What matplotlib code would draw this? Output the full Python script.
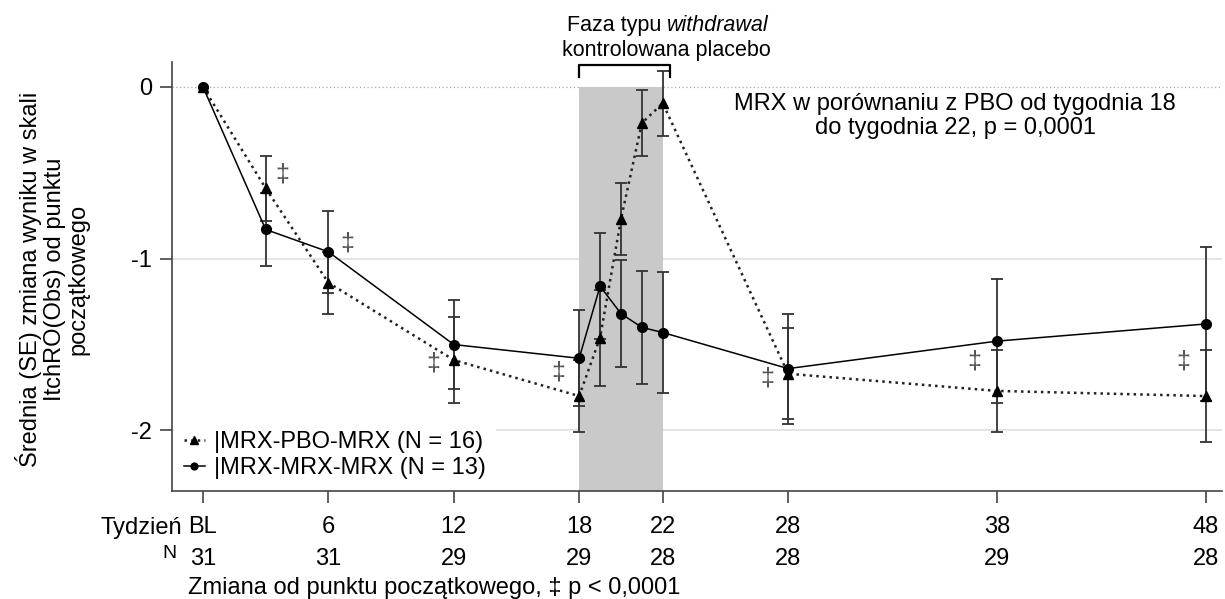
import matplotlib.pyplot as plt
import matplotlib.transforms as mtransforms

plt.rcParams['font.family'] = ['Liberation Sans', 'DejaVu Sans']

# Dane
tygodnie = [0, 3, 6, 12, 18, 19, 20, 21, 22, 28, 38, 48]
pbo_srednia = [0, -0.59, -1.14, -1.59, -1.80, -1.46, -0.77, -0.21, -0.095, -1.67, -1.77, -1.80]
pbo_se = [0, 0.19, 0.18, 0.25, 0.21, 0.28, 0.21, 0.195, 0.19, 0.265, 0.24, 0.27]
mrx_srednia = [0, -0.83, -0.96, -1.50, -1.58, -1.16, -1.32, -1.40, -1.43, -1.64, -1.48, -1.38]
mrx_se = [0, 0.21, 0.24, 0.26, 0.28, 0.31, 0.31, 0.33, 0.35, 0.32, 0.36, 0.45]

tyg_ticki = [0, 6, 12, 18, 22, 28, 38, 48]
tyg_etykiety = ['BL', '6', '12', '18', '22', '28', '38', '48']
liczba_n = ['31', '31', '29', '29', '28', '28', '29', '28']

faza_od, faza_do = 18, 22

# tygodnie z p < 0,0001 i miejsce znaku ‡
sygn_x = [3.8, 6.9, 11.0, 17.0, 27.0, 36.9, 46.9]
sygn_y = [-0.51, -0.91, -1.61, -1.66, -1.70, -1.60, -1.60]

fs = 17

fig = plt.figure(figsize=(12.25, 5.99), dpi=100)
ax = fig.add_axes([172 / 1225, 1 - 490.7 / 599, 1050 / 1225, 429 / 599])

ax.set_xlim(-1.483, 48.76)
ax.set_ylim(-2.351, 0.147)

# linie siatki
ax.axhline(0, color='#a8a8a8', lw=0.9, ls=(0, (1, 2)), zorder=1)
for y in [-1, -2]:
    ax.axhline(y, color='#e2e2e2', lw=1.3, zorder=1)

# faza withdrawal
ax.fill_between([faza_od, faza_do], 0, -10, color='#c9c9c9', lw=0, zorder=1.5)

# słupki błędów
ax.errorbar(tygodnie[1:], pbo_srednia[1:], yerr=pbo_se[1:], fmt='none',
            ecolor='#333333', elinewidth=1.3, capsize=4.3, capthick=1.3, zorder=2)
ax.errorbar(tygodnie[1:], mrx_srednia[1:], yerr=mrx_se[1:], fmt='none',
            ecolor='#333333', elinewidth=1.3, capsize=4.3, capthick=1.3, zorder=2)

l1, = ax.plot(tygodnie, pbo_srednia, ls=':', color='#222222', lw=1.8,
              marker='^', ms=7.5, mfc='black', mec='black', zorder=3,
              label='|MRX-PBO-MRX (N = 16)')
l2, = ax.plot(tygodnie, mrx_srednia, ls='-', color='black', lw=1.1,
              marker='o', ms=7, mfc='black', mec='black', zorder=4,
              label='|MRX-MRX-MRX (N = 13)')

for x, y in zip(sygn_x, sygn_y):
    ax.text(x, y, '\u2021', fontsize=18, color='#555555', ha='center', va='center')

leg = ax.legend(handles=[l1, l2], loc='lower left', bbox_to_anchor=(0, 0),
                fontsize=fs, frameon=True, facecolor='white', edgecolor='none',
                framealpha=1, fancybox=False, handlelength=0.9, handletextpad=0.4,
                labelspacing=0.15, borderaxespad=0.1, markerscale=0.7)
leg.set_zorder(5)

# osie
for s in ['top', 'right']:
    ax.spines[s].set_visible(False)
for s in ['left', 'bottom']:
    ax.spines[s].set_color('#444444')
    ax.spines[s].set_linewidth(1.2)

ax.set_yticks([0, -1, -2])
ax.set_yticklabels(['0', '-1', '-2'])
ax.set_xticks(tyg_ticki)
ax.set_xticklabels(tyg_etykiety)
ax.tick_params(axis='both', labelsize=fs, color='#444444', width=1.2, length=8.5)
ax.tick_params(axis='x', pad=10)
ax.tick_params(axis='y', pad=6)

trans = mtransforms.blended_transform_factory(ax.transData, ax.transAxes)
ax.text(-1.0, -0.086, 'Tydzień', fontsize=fs, ha='right', va='center', transform=trans)
ax.text(-1.6, -0.146, 'N', fontsize=14, ha='center', va='center', transform=trans)
for x, n in zip(tyg_ticki, liczba_n):
    ax.text(x, -0.160, n, fontsize=fs, ha='center', va='center', transform=trans)
ax.text(-0.72, -0.226, 'Zmiana od punktu początkowego, \u2021 p < 0,0001', fontsize=fs,
        ha='left', va='center', transform=trans)

# klamra nad fazą
ax.plot([faza_od, faza_od, 22.35, 22.35], [0.058, 0.128, 0.128, 0.058],
        color='black', lw=1.6, clip_on=False, zorder=6)
ax.text(22.2, 0.36, 'Faza typu ', fontsize=15.5, ha='right', va='center')
ax.text(22.2, 0.36, 'withdrawal', fontsize=15.5, style='italic', ha='left', va='center')
ax.text(22.15, 0.215, 'kontrolowana placebo', fontsize=15.5, ha='center', va='center')

ax.text(36.0, -0.17, 'MRX w porównaniu z PBO od tygodnia 18\ndo tygodnia 22, p = 0,0001',
        fontsize=fs, ha='center', va='center', linespacing=1.1)

fig.text(52 / 1225, 1 - 279 / 599,
         'Średnia (SE) zmiana wyniku w skali\nItchRO(Obs) od punktu\npoczątkowego',
         fontsize=fs, rotation=90, ha='center', va='center', multialignment='center',
         linespacing=1.1)

fig.savefig('out.png', dpi=100)
